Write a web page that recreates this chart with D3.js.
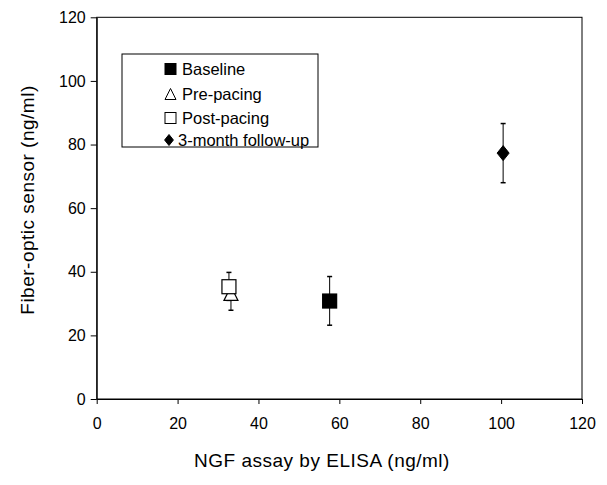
<!DOCTYPE html>
<html><head><meta charset="utf-8">
<script src="https://cdn.jsdelivr.net/npm/d3@7"></script>
<style>body{margin:0;background:#fff}text{font-family:Arial,"Liberation Sans",sans-serif}</style>
</head><body>
<svg id="c" width="607" height="485"></svg>
<script>
const groups = ["Baseline", "Pre-pacing", "Post-pacing", "3-month follow-up"];
const xValues = [57.6, 33.2, 32.7, 100.5];
const yValues = [30.8, 33.2, 35.3, 77.3];
const yLow = [23.2, 27.9, 31.0, 68.0];
const yHigh = [38.5, 34.0, 39.8, 86.6];
const shapes = ["filledSquare", "triangle", "openSquare", "diamond"];
const xTicks = [0, 20, 40, 60, 80, 100, 120];
const yTicks = [0, 20, 40, 60, 80, 100, 120];

const svg = d3.select("#c");
const m = {l: 96.7, r: 582, t: 17.3, b: 399};
const x = d3.scaleLinear().domain([0, 120]).range([m.l, m.r]);
const y = d3.scaleLinear().domain([0, 120]).range([m.b, m.t]);

// frame
svg.append("rect").attr("x", m.l).attr("y", m.t).attr("width", m.r - m.l).attr("height", m.b - m.t)
  .attr("fill", "none").attr("stroke", "#000").attr("stroke-width", 1);

const xa = svg.append("g").attr("transform", `translate(0,${m.b})`)
  .call(d3.axisBottom(x).tickValues(xTicks).tickSize(5).tickSizeOuter(0).tickPadding(14));
const ya = svg.append("g").attr("transform", `translate(${m.l},0)`)
  .call(d3.axisLeft(y).tickValues(yTicks).tickSize(6).tickSizeOuter(0).tickPadding(5));
[xa, ya].forEach(g => {
  g.selectAll("text").attr("font-size", 16).attr("fill", "#000").attr("font-family", "Arial, 'Liberation Sans', sans-serif");
  g.selectAll("line,path").attr("stroke", "#000");
});

// axis titles
svg.append("text").attr("x", 322).attr("y", 467).attr("text-anchor", "middle")
  .attr("font-size", 19).attr("letter-spacing", 0.5).text("NGF assay by ELISA (ng/ml)");
svg.append("text").attr("transform", "translate(34,200) rotate(-90)").attr("text-anchor", "middle")
  .attr("font-size", 19).attr("letter-spacing", 0.5).text("Fiber-optic sensor (ng/ml)");

function drawShape(g, kind, cx, cy, s, sw) {
  const h = s / 2;
  if (kind === "filledSquare" || kind === "openSquare") {
    g.append("rect").attr("x", cx - h).attr("y", cy - h).attr("width", s).attr("height", s)
      .attr("fill", kind === "filledSquare" ? "#000" : "#fff").attr("stroke", "#000").attr("stroke-width", sw);
  } else if (kind === "triangle") {
    g.append("path").attr("d", `M${cx},${cy - h}L${cx + h},${cy + h}L${cx - h},${cy + h}Z`)
      .attr("fill", "#fff").attr("stroke", "#000").attr("stroke-width", sw);
  } else {
    g.append("path").attr("d", `M${cx},${cy - h}L${cx + h * 0.8},${cy}L${cx},${cy + h}L${cx - h * 0.8},${cy}Z`)
      .attr("fill", "#000").attr("stroke", "#000");
  }
}

// draw order: triangle first so square overlaps it
const order = [1, 0, 2, 3];
const pts = svg.append("g");
order.forEach(i => {
  const g = pts.append("g");
  const cx = x(xValues[i]);
  g.append("line").attr("x1", cx).attr("x2", cx).attr("y1", y(yLow[i])).attr("y2", y(yHigh[i])).attr("stroke", "#000");
  [yLow[i], yHigh[i]].forEach(v => g.append("line").attr("x1", cx - 2.5).attr("x2", cx + 2.5)
    .attr("y1", y(v)).attr("y2", y(v)).attr("stroke", "#000").attr("stroke-width", 1.5));
});
order.forEach(i => {
  drawShape(pts, shapes[i], x(xValues[i]), y(yValues[i]), i === 3 ? 15 : 14, 1.2);
});

// legend
const lg = svg.append("g");
lg.append("rect").attr("x", 122).attr("y", 54).attr("width", 196).attr("height", 93)
  .attr("fill", "#fff").attr("stroke", "#000");
const rowY = [69, 94, 118, 140];
groups.forEach((name, i) => {
  drawShape(lg, shapes[i], i === 3 ? 169 : 170.5, rowY[i], 11, 1);
  lg.append("text").attr("x", i === 3 ? 178 : 182).attr("y", rowY[i] + 6).attr("font-size", 16.5).text(name);
});
</script>
</body></html>
